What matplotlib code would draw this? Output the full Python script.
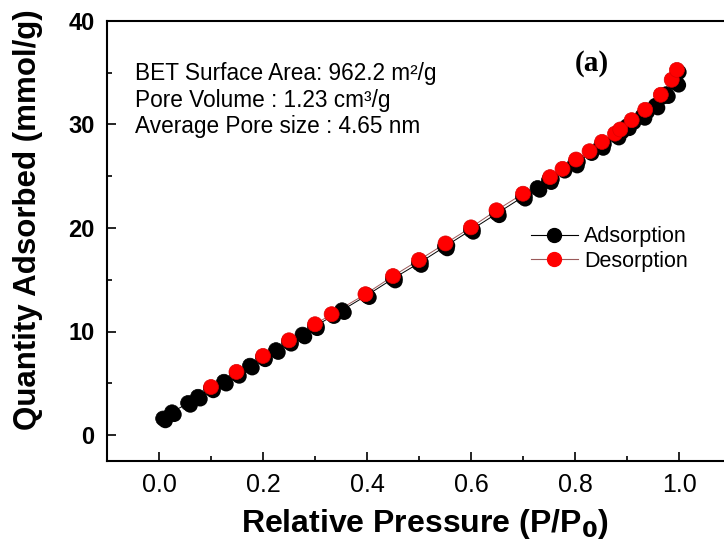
import matplotlib
matplotlib.use("Agg")
import matplotlib.pyplot as plt
import matplotlib.patheffects as pe
from matplotlib.lines import Line2D

plt.rcParams['font.family'] = ['Liberation Sans', 'DejaVu Sans']

# Adsorption branch
ads_x = [0.008, 0.025, 0.056, 0.075, 0.10, 0.125, 0.15, 0.175, 0.20, 0.225, 0.25,
         0.276, 0.30, 0.352, 0.40, 0.45, 0.50, 0.55, 0.60, 0.65, 0.70, 0.728, 0.75,
         0.80, 0.85, 0.88, 0.90, 0.93, 0.955, 0.975, 0.995]
ads_y = [1.6, 2.2, 3.1, 3.7, 4.5, 5.15, 5.9, 6.7, 7.5, 8.2, 9.0,
         9.7, 10.5, 12.05, 13.5, 15.1, 16.6, 18.2, 19.8, 21.4, 23.0, 23.85, 24.6,
         26.2, 27.9, 28.9, 29.8, 30.8, 31.8, 32.9, 34.0]

# Desorption branch
des_x = [0.10, 0.149, 0.20, 0.25, 0.30, 0.332, 0.397, 0.45, 0.50, 0.551, 0.60,
         0.649, 0.70, 0.752, 0.776, 0.802, 0.828, 0.852, 0.877, 0.887, 0.909,
         0.935, 0.965, 0.986, 0.996]
des_y = [4.64, 6.1, 7.64, 9.15, 10.7, 11.67, 13.6, 15.35, 16.9, 18.5, 20.05,
         21.7, 23.3, 24.9, 25.7, 26.6, 27.4, 28.3, 29.1, 29.5, 30.4,
         31.4, 32.85, 34.3, 35.25]

x_ticks = [0.0, 0.2, 0.4, 0.6, 0.8, 1.0]
y_ticks = [0, 10, 20, 30, 40]
info_lines = ["BET Surface Area: 962.2 m\u00b2/g",
              "Pore Volume : 1.23 cm\u00b3/g",
              "Average Pore size : 4.65 nm"]

fig = plt.figure(figsize=(7.24, 5.44), dpi=100)
ax = fig.add_axes([107/724, (544-461)/544, 624/724, (461-20.7)/544])

des_line_color = '#9a5a5a'
shadow = [pe.SimplePatchShadow(offset=(1.6, -1.6), shadow_rgbFace='black', alpha=1.0), pe.Normal()]

ax.plot(ads_x, ads_y, '-', color='black', lw=0.7, zorder=2)
ax.plot(des_x, des_y, '-', color=des_line_color, lw=0.7, zorder=2)
ax.plot(ads_x, ads_y, 'o', color='black', ms=10.8, mec='black', mew=0.5,
        path_effects=shadow, zorder=3)
ax.plot(des_x, des_y, 'o', color='#ff0000', ms=10.8, mec='#dd0000', mew=0.5,
        path_effects=shadow, zorder=4)

ax.set_xlim(-0.1, 1.1)
ax.set_ylim(-2.5, 40)
ax.set_xticks(x_ticks)
ax.set_xticklabels([f"{v:.1f}" for v in x_ticks])
ax.set_yticks(y_ticks)
ax.set_xticks([0.1, 0.3, 0.5, 0.7, 0.9], minor=True)
ax.set_yticks([5, 15, 25, 35], minor=True)

for s in ax.spines.values():
    s.set_linewidth(1.5)
ax.tick_params(which='both', direction='in', width=1.2, top=False, right=False)
ax.tick_params(which='major', length=6.5)
ax.tick_params(which='minor', length=3.5)
ax.tick_params(axis='x', which='major', labelsize=18, pad=9)
ax.tick_params(axis='y', which='major', labelsize=17, pad=9)
for lab in ax.get_yticklabels():
    lab.set_fontweight('bold')

ax.set_xlabel("Relative Pressure (P/P$_\\mathbf{0}$)", fontsize=23, fontweight='bold')
ax.xaxis.set_label_coords((425-107)/624, -(507-461)/440.3)
ax.set_ylabel("Quantity Adsorbed (mmol/g)", fontsize=22.5, fontweight='bold')
ax.yaxis.set_label_coords((43-107)/624, (461-220)/440.3)

for i, t in enumerate(info_lines):
    ax.text((135-107)/624, 1 - (74 - 20.7)/440.3 - i*26.5/440.3, t, transform=ax.transAxes,
            fontsize=16.3, va='center', ha='left')

ax.text((592-107)/624, 1 - (64-20.7)/440.3, "(a)", transform=ax.transAxes,
        fontsize=21, fontweight='bold', family='Liberation Serif', ha='center', va='center')

handles = [Line2D([], [], color='black', lw=0.8, marker='o', ms=10, mfc='black', mec='black'),
           Line2D([], [], color=des_line_color, lw=0.8, marker='o', ms=10, mfc='#ff0000', mec='#ff0000')]
ax.legend(handles, ['Adsorption', 'Desorption'], loc='center left',
          bbox_to_anchor=((522-107)/624, 1 - (249-20.7)/440.3), frameon=False,
          fontsize=15.5, handlelength=2.2, handletextpad=0.3, labelspacing=0.15,
          borderaxespad=0)

fig.savefig("out.png", dpi=100)
